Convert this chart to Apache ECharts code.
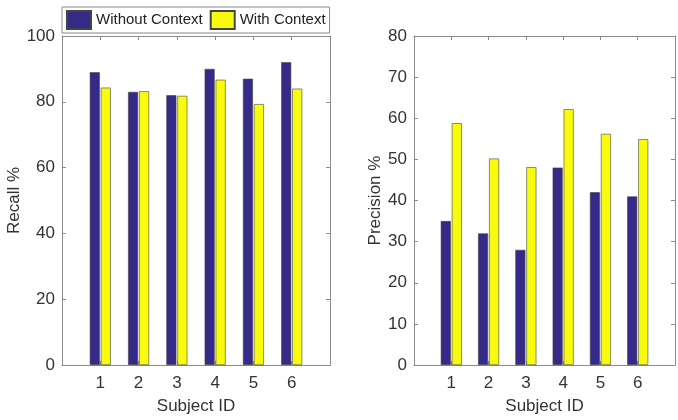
<!DOCTYPE html>
<html>
<head>
<meta charset="utf-8">
<script src="https://cdn.jsdelivr.net/npm/echarts@6/dist/echarts.min.js"></script>
<style>html,body{margin:0;padding:0;background:#fff}#c{width:678px;height:420px}</style>
</head>
<body>
<div id="c"></div>
<script>
var subjects = [1, 2, 3, 4, 5, 6];
var recallWithout = [89, 83, 82, 90, 87, 92];
var recallWith = [84.3, 83.2, 81.8, 86.7, 79.3, 84.0];
var precisionWithout = [35, 32, 28, 48, 42, 41];
var precisionWith = [58.8, 50.2, 48.1, 62.2, 56.2, 54.9];
var seriesNames = ['Without Context', 'With Context'];
var colors = ['#352a87', '#f9fb0e'];

function pairs(vals) { return subjects.map(function (s, i) { return [s, vals[i]]; }); }

var font = 'Liberation Sans, Arial, sans-serif';
var lineCol = '#8a8a8a';
var textCol = '#333';

function xAxes(gi) {
  var base = {
    type: 'value', gridIndex: gi, min: 0, max: 7, interval: 1,
    splitLine: { show: false },
    axisLine: { show: true, onZero: false, lineStyle: { color: lineCol, width: 1 } },
    axisTick: { show: true, inside: true, length: 4, lineStyle: { color: lineCol } }
  };
  return [
    Object.assign({}, base, {
      position: 'bottom',
      name: 'Subject ID', nameLocation: 'middle', nameGap: 33,
      nameTextStyle: { fontFamily: font, fontSize: 17, color: textCol },
      axisLabel: { fontFamily: font, fontSize: 17, color: textCol, margin: 10,
        formatter: function (v) { return (v >= 1 && v <= 6) ? String(v) : ''; } }
    }),
    Object.assign({}, base, { position: 'top', axisLabel: { show: false } })
  ];
}
function yAxes(gi, max, interval, name, gap) {
  var base = {
    type: 'value', gridIndex: gi, min: 0, max: max, interval: interval,
    splitLine: { show: false },
    axisLine: { show: true, onZero: false, lineStyle: { color: lineCol, width: 1 } },
    axisTick: { show: true, inside: true, length: 4, lineStyle: { color: lineCol } }
  };
  return [
    Object.assign({}, base, {
      position: 'left', name: name, nameLocation: 'middle', nameGap: gap,
      nameTextStyle: { fontFamily: font, fontSize: 17, color: textCol },
      axisLabel: { fontFamily: font, fontSize: 17, color: textCol, margin: 7 }
    }),
    Object.assign({}, base, { position: 'right', axisLabel: { show: false } })
  ];
}

var xs = xAxes(0).concat(xAxes(1));
var ys = yAxes(0, 100, 20, 'Recall %', 36).concat(yAxes(1, 80, 10, 'Precision %', 25));

function bar(name, data, xi, yi, ci) {
  return {
    type: 'bar', name: name, data: pairs(data), xAxisIndex: xi, yAxisIndex: yi,
    barWidth: 10, barGap: '10%',
    itemStyle: { color: colors[ci], borderColor: '#444', borderWidth: 0.6 },
    emphasis: { disabled: true }
  };
}

var chart = echarts.init(document.getElementById('c'), null, { renderer: 'canvas' });
chart.setOption({
  animation: false,
  backgroundColor: '#fff',
  grid: [
    { left: 62, right: 348, top: 36, bottom: 53 },
    { left: 414, right: -2, top: 36, bottom: 53 }
  ],
  legend: {
    data: seriesNames, left: 62, top: 7, width: 267,
    padding: [3, 4, 3, 4], itemGap: 7, itemWidth: 24, itemHeight: 18,
    borderColor: '#8a8a8a', borderWidth: 1, backgroundColor: '#fff',
    icon: 'rect',
    textStyle: { fontFamily: font, fontSize: 15, color: '#222' }
  },
  xAxis: xs,
  yAxis: ys,
  series: [
    bar(seriesNames[0], recallWithout, 0, 0, 0),
    bar(seriesNames[1], recallWith, 0, 0, 1),
    bar(seriesNames[0], precisionWithout, 2, 2, 0),
    bar(seriesNames[1], precisionWith, 2, 2, 1)
  ]
});
</script>
</body>
</html>
